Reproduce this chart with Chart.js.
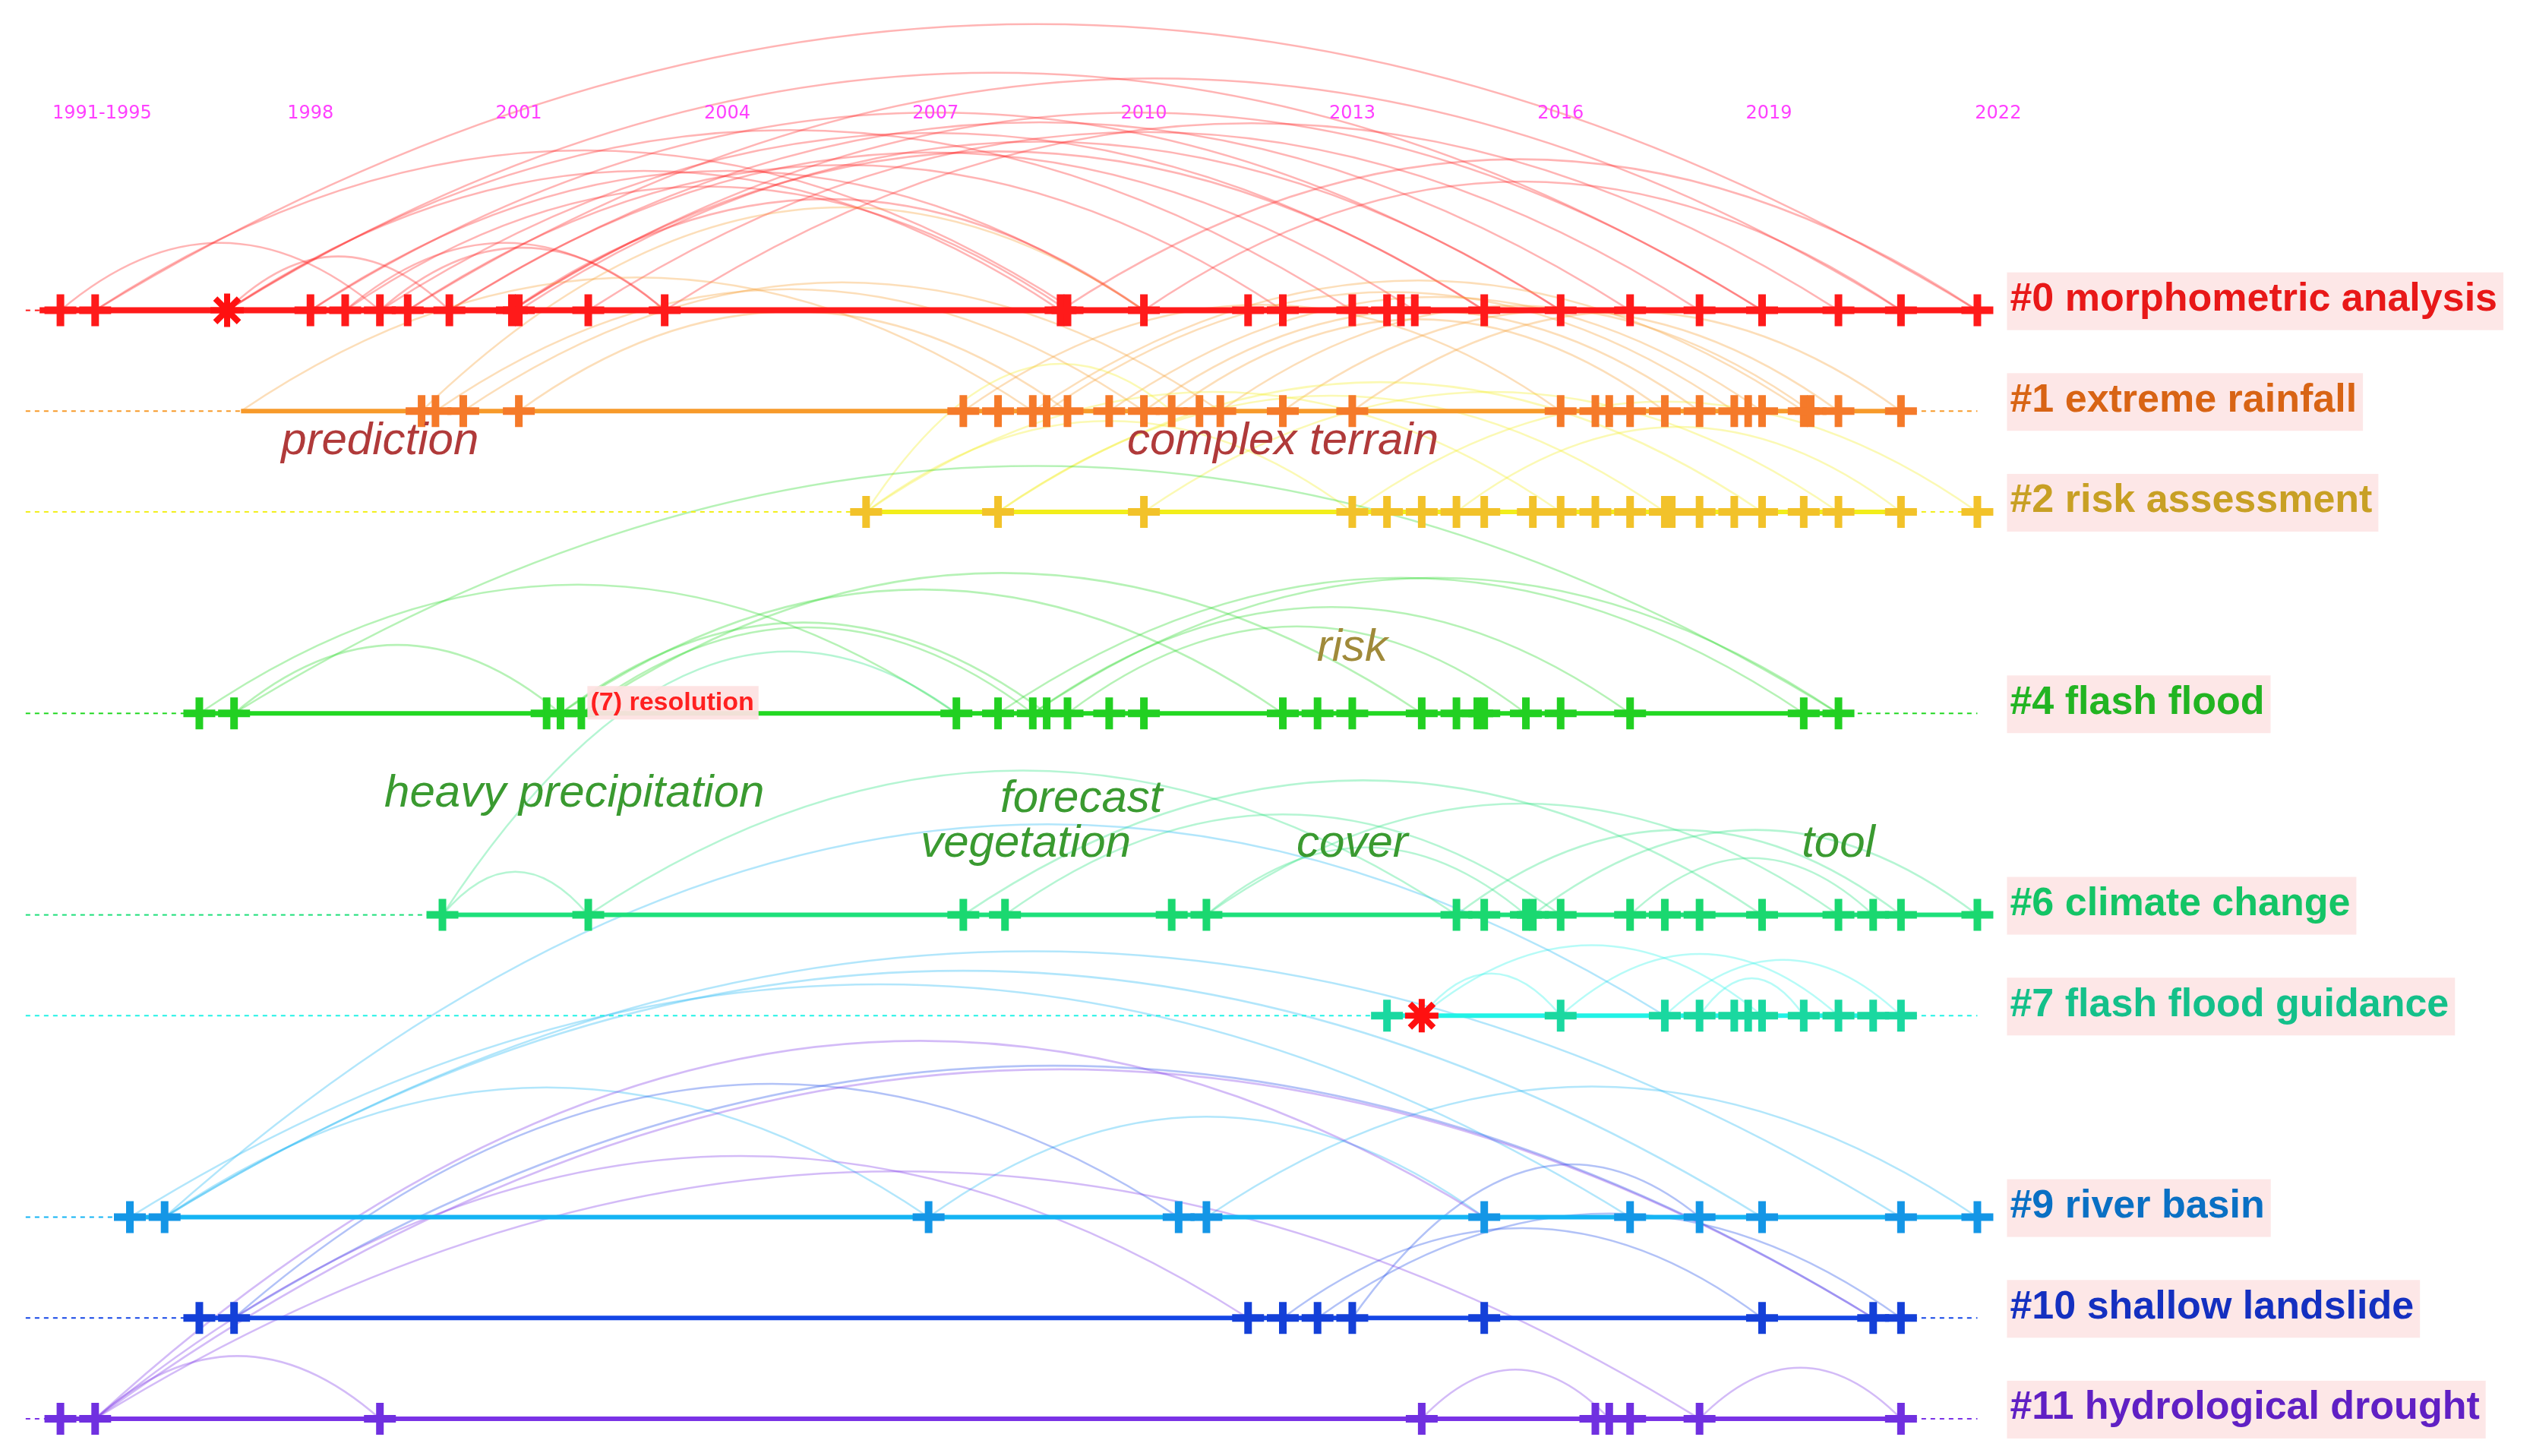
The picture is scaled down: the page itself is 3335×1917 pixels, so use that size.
<!DOCTYPE html>
<html><head><meta charset="utf-8">
<script src="https://cdn.jsdelivr.net/npm/chart.js@4"></script>
<style>html,body{margin:0;padding:0;background:#fff}canvas{display:block}</style>
</head><body><canvas id="c" width="3335" height="1917"></canvas>
<script>
const tickYears=[1995,1998,2001,2004,2007,2010,2013,2016,2019,2022.3];
const tickLabels=['1991-1995','1998','2001','2004','2007','2010','2013','2016','2019','2022'];
const clusterRows=[0,1,2,4,6,7,9,10,11];
const clusterNames=['#0 morphometric analysis','#1 extreme rainfall','#2 risk assessment','#4 flash flood','#6 climate change','#7 flash flood guidance','#9 river basin','#10 shallow landslide','#11 hydrological drought'];
const lineColors=['#ff1a1a','#f79a2a','#f2ee1a','#22d822','#1de07a','#22f2e6','#14b4f4','#1446e6','#7a32e6'];
const nodeColors=['#ff1a1a','#f57a2a','#f2c22a','#22d022','#1ad870','#1ad8a0','#1496e6','#1440d8','#7030e0'];
const labelColors=['#e81818','#d86414','#c8a024','#22b422','#14c466','#14c08a','#0a70c4','#1430c0','#6020c4'];
const lineStart=[1994.1,1997.0,2006.0,1996.4,1999.9,2013.5,1995.4,1996.4,1994.4];
const lineEnd=[2022.1,2020.9,2020.9,2020.0,2022.0,2021.0,2022.0,2020.9,2020.9];
const dashStart=1993.9, dashEnd=2022.0;
const nodes0=[1994.4,1994.9,1998,1998.5,1999.0,1999.4,2000.0,2000.9,2001.0,2002.0,2003.1,2008.8,2008.9,2010.0,2011.5,2012.0,2013.0,2013.5,2013.7,2013.9,2014.9,2016.0,2017.0,2018.0,2018.9,2020.0,2020.9,2022.0];
const nodes1=[1999.6,1999.8,2000.2,2001.0,2007.4,2007.9,2008.4,2008.6,2008.9,2009.5,2010.0,2010.4,2010.8,2011.1,2012.0,2013.0,2016.0,2016.5,2016.7,2017.0,2017.5,2018.0,2018.5,2018.7,2018.9,2019.5,2019.6,2020.0,2020.9];
const nodes2=[2006.0,2007.9,2010.0,2013.0,2013.5,2014.0,2014.5,2014.9,2015.6,2016.0,2016.5,2017.0,2017.5,2017.6,2018.0,2018.5,2018.9,2019.5,2020.0,2020.9,2022.0];
const nodes4=[1996.4,1996.9,2001.4,2001.6,2001.9,2007.3,2007.9,2008.4,2008.6,2008.9,2009.5,2010.0,2012.0,2012.5,2013.0,2014.0,2014.5,2014.8,2014.9,2015.5,2016.0,2017.0,2019.5,2020.0];
const nodes6=[1999.9,2002.0,2007.4,2008.0,2010.4,2010.9,2014.5,2014.9,2015.5,2015.6,2016.0,2017.0,2017.5,2018.0,2018.9,2020.0,2020.5,2020.9,2022.0];
const nodes7=[2013.5,2016.0,2017.5,2018.0,2018.5,2018.7,2018.9,2019.5,2020.0,2020.5,2020.9];
const nodes9=[1995.4,1995.9,2006.9,2010.5,2010.9,2014.9,2017.0,2018.0,2018.9,2020.9,2022.0];
const nodes10=[1996.4,1996.9,2011.5,2012.0,2012.5,2013.0,2014.9,2018.9,2020.5,2020.9];
const nodes11=[1994.4,1994.9,1999.0,2014.0,2016.5,2016.7,2017.0,2018.0,2020.9];
const clusterNodes=[nodes0,nodes1,nodes2,nodes4,nodes6,nodes7,nodes9,nodes10,nodes11];
const starNodes=[[1996.8,0],[2014.0,7]];
const links=[
[0,1994.9,0,2022],[0,1996.8,0,2018.9],[0,1996.8,0,2013.0],[0,1998,0,2016],[0,1999.4,0,2012],[0,1999.4,0,2020.9],[0,2000,0,2017],[0,2000.9,0,2010],[0,2000.9,0,2014.9],[0,1998.5,0,2008.9],[0,1994.4,0,1999.0],[0,1996.8,0,2000.0],[0,1999.0,0,2003.1],[0,2002,0,2018],[0,2003.1,0,2020],[0,2008.8,0,2022],[0,2010,0,2020.9],[0,1996.8,0,2008.8],[0,1994.9,0,2009],[0,2000,0,2013.9],[0,1998,0,2010],[0,1999.0,0,2014.9],[0,2001,0,2016],[0,2000.9,0,2018.9],[0,1998.5,0,2003.1],
[1,1997,1,2008.4],[1,1999.8,1,2010],[1,2000.2,1,2011.1],[1,2001,1,2008.9],[1,2008.4,1,2019.5],[1,2009.5,1,2018.9],[1,2012,1,2020],[1,2010.4,1,2017.5],[1,2007.4,1,2016],[1,2013,1,2020.9],[1,2008.6,1,2018.5],[1,1999.6,0,2010],[1,2011.1,1,2019.6],[1,2010,1,2018],
[2,2006,2,2013],[2,2007.9,2,2018.9],[2,2010,2,2020],[2,2013,2,2022],[2,2007.9,2,2017.5],[2,2014.5,2,2020.9],[2,2006,2,2016],[2,2006,1,2010.4],
[4,1996.9,4,2020],[4,1996.9,4,2001.6],[4,1996.4,4,2007.3],[4,2001.6,4,2008.6],[4,2001.9,4,2008.4],[4,2001.6,4,2012],[4,2001.9,4,2014],[4,2007.9,4,2019.5],[4,2008.4,4,2017],[4,2008.9,4,2015.5],[4,2008.4,4,2020],
[6,1999.9,6,2002],[6,1999.9,4,2007.3],[6,2002,6,2014.5],[6,2007.4,6,2018.9],[6,2010.9,6,2015.5],[6,2010.9,6,2020],[6,2014.5,6,2020.9],[6,2015.6,6,2022],[6,2008,6,2016],[6,2017,6,2020.5],
[7,2014,7,2018.9],[7,2016,7,2020],[7,2017.5,7,2020.9],[7,2018,7,2019.5],[7,2014,7,2016],
[9,1995.9,9,2006.9],[9,1995.9,9,2018.9],[9,1995.9,9,2020.9],[9,1995.9,7,2017.5],[9,2006.9,9,2014.9],[9,2010.9,9,2022],[9,1995.4,9,2017],
[10,1996.9,10,2020.5],[10,1996.9,9,2010.5],[10,2012,10,2018.9],[10,2012.5,10,2020.9],[10,2013,9,2018],
[11,1994.9,10,2011.5],[11,1994.9,11,1999],[11,1994.9,10,2020.5],[11,2014,11,2016.7],[11,2018,11,2020.9],[11,1994.9,9,2014.9],[11,1994.9,11,2018]
];
const keywords=[['prediction',1999.0,1.3,'#b03a3a'],['complex terrain',2012.0,1.3,'#b03a3a'],['risk',2013.0,3.35,'#a08a3a'],['heavy precipitation',2001.8,4.8,'#3a9a30'],['forecast',2009.1,4.85,'#3a9a30'],['vegetation',2008.3,5.3,'#3a9a30'],['cover',2013.0,5.3,'#3a9a30'],['tool',2020.0,5.3,'#3a9a30']];
const nodeLabel=['(7) resolution',2001.9,4];

const rowColor={};clusterRows.forEach((r,i)=>rowColor[r]=lineColors[i]);
function hexA(h,a){const n=parseInt(h.slice(1),16);return `rgba(${n>>16},${(n>>8)&255},${n&255},${a})`;}

const datasets=[];
clusterRows.forEach((r,i)=>{
  datasets.push({type:'line',data:[{x:dashStart,y:r},{x:dashEnd,y:r}],borderColor:lineColors[i],borderWidth:2,borderDash:[6,6],pointRadius:0,order:5});
  datasets.push({type:'line',data:[{x:lineStart[i],y:r},{x:lineEnd[i],y:r}],borderColor:lineColors[i],borderWidth:i===0?8:6,pointRadius:0,order:4});
  datasets.push({type:'scatter',data:clusterNodes[i].map(x=>({x,y:r})),pointStyle:'cross',pointRadius:21,borderWidth:10,borderColor:nodeColors[i],backgroundColor:nodeColors[i],order:2});
});
datasets.push({type:'scatter',data:starNodes.map(s=>({x:s[0],y:s[1]})),pointStyle:'star',pointRadius:22,borderWidth:8,borderColor:'#ff1010',backgroundColor:'#ff1010',order:1});

const deco={id:'deco',
 beforeDatasetsDraw(ch){const c=ch.ctx,xs=ch.scales.x,ys=ch.scales.y;c.save();c.lineWidth=2.5;
  links.forEach(l=>{const x1=xs.getPixelForValue(l[1]),y1=ys.getPixelForValue(l[0]),x2=xs.getPixelForValue(l[3]),y2=ys.getPixelForValue(l[2]);
   const h=30+0.14*Math.abs(x2-x1);c.strokeStyle=hexA(rowColor[l[0]],0.33);
   c.beginPath();c.moveTo(x1,y1);c.quadraticCurveTo((x1+x2)/2,Math.min(y1,y2)-2*h,x2,y2);c.stroke();});
  c.restore();},
 afterDraw(ch){const c=ch.ctx,xs=ch.scales.x,ys=ch.scales.y;c.save();
  c.fillStyle='#ff40ff';c.font='24px "DejaVu Sans"';c.textAlign='center';c.textBaseline='middle';
  tickYears.forEach((y,i)=>c.fillText(tickLabels[i],xs.getPixelForValue(y),ys.getPixelForValue(-1.95)));
  c.font='bold 52px "Liberation Sans", Arial';c.textAlign='left';
  clusterRows.forEach((r,i)=>{const x=xs.getPixelForValue(2022.47),y=ys.getPixelForValue(r)-14;const w=c.measureText(clusterNames[i]).width;
   c.fillStyle='rgba(253,228,228,0.9)';c.fillRect(x-4,y-36,w+12,76);c.fillStyle=labelColors[i];c.fillText(clusterNames[i],x,y);});
  c.font='italic 60px "Liberation Sans", Arial';c.textAlign='center';
  keywords.forEach(k=>{c.fillStyle=k[3];c.fillText(k[0],xs.getPixelForValue(k[1]),ys.getPixelForValue(k[2]));});
  c.font='bold 34px "Liberation Sans", Arial';c.textAlign='left';
  const lx=xs.getPixelForValue(nodeLabel[1])+12,ly=ys.getPixelForValue(nodeLabel[2])-14,lw=c.measureText(nodeLabel[0]).width;
  c.fillStyle='rgba(253,225,225,0.95)';c.fillRect(lx-4,ly-22,lw+10,44);c.fillStyle='#ff2020';c.fillText(nodeLabel[0],lx,ly);
  c.restore();}};

new Chart(document.getElementById('c'),{data:{datasets},plugins:[deco],
 options:{responsive:false,animation:false,devicePixelRatio:1,layout:{padding:0,autoPadding:false},
  plugins:{legend:{display:false},tooltip:{enabled:false}},
  scales:{x:{type:'linear',display:false,min:1993.53,max:2030.0},y:{type:'linear',display:false,reverse:true,min:-3.08,max:11.37}}}});
</script></body></html>
